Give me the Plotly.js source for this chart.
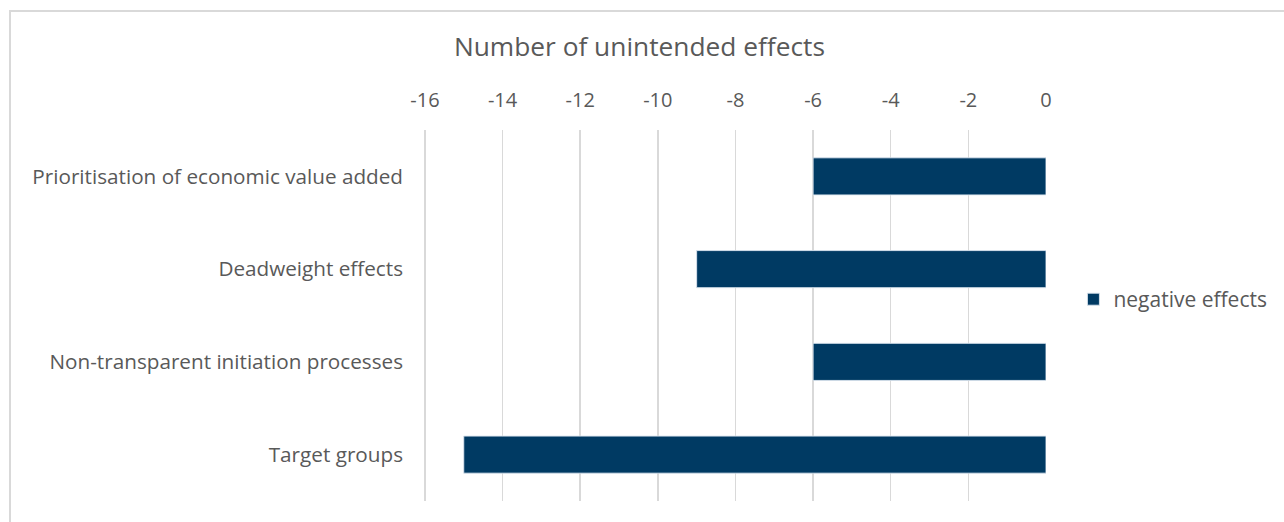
<!DOCTYPE html>
<html>
<head>
<meta charset="utf-8">
<script src="https://cdn.plot.ly/plotly-3.0.1.min.js"></script>
<style>
html, body { margin: 0; padding: 0; background: #fff; }
#wrap { position: relative; width: 1284px; height: 522px; overflow: hidden; }
#frame { position: absolute; left: 9px; top: 10px; width: 1300px; height: 600px; border-left: 2px solid #d9d9d9; border-top: 2px solid #d9d9d9; box-sizing: border-box; pointer-events: none; }
#chart { position: absolute; left: 0; top: 0; width: 1284px; height: 522px; }
</style>
</head>
<body>
<div id="wrap">
<div id="chart"></div>
<div id="frame"></div>
</div>
<script>
const categories = [
  "Prioritisation of economic value added",
  "Deadweight effects",
  "Non-transparent initiation processes",
  "Target groups"
];
const negativeEffects = [-6, -9, -6, -15];
const tickValues = [-16, -14, -12, -10, -8, -6, -4, -2, 0];
const seriesName = "negative effects";
const chartTitle = "Number of unintended effects";

const FONT = "'Open Sans', 'Noto Sans', sans-serif";
const GREY = "#595959";

const trace = {
  type: "bar",
  orientation: "h",
  y: categories,
  x: negativeEffects,
  name: seriesName,
  marker: { color: "#003a63", line: { color: "rgba(220,230,240,0.9)", width: 1 } },
  showlegend: true,
  hoverinfo: "x+y"
};

const layout = {
  width: 1284,
  height: 522,
  paper_bgcolor: "rgba(0,0,0,0)",
  plot_bgcolor: "rgba(0,0,0,0)",
  margin: { l: 423, r: 238, t: 130, b: 21, pad: 0 },
  font: { family: FONT, color: GREY, size: 18 },
  title: {
    text: chartTitle,
    x: 0.498, xref: "container", xanchor: "center",
    y: 1 - 47 / 522, yref: "container", yanchor: "middle",
    font: { family: FONT, size: 26.3, color: GREY }
  },
  bargap: 0.6,
  xaxis: {
    side: "top",
    range: [-16.05, 0],
    tickvals: tickValues,
    ticktext: tickValues.map(String),
    showgrid: true,
    gridcolor: "#d9d9d9",
    gridwidth: 1.5,
    zeroline: false,
    showline: false,
    ticks: "",
    ticklabelstandoff: 18,
    tickfont: { family: FONT, size: 20, color: GREY },
    fixedrange: true
  },
  yaxis: {
    type: "category",
    autorange: "reversed",
    showgrid: false,
    zeroline: false,
    showline: false,
    ticks: "",
    ticklabelstandoff: 19,
    tickfont: { family: FONT, size: 20.7, color: GREY },
    fixedrange: true
  },
  showlegend: true,
  legend: {
    x: 1.044, xanchor: "left",
    y: 0.543, yanchor: "middle",
    font: { family: FONT, size: 21, color: GREY },
    bgcolor: "rgba(0,0,0,0)",
    itemwidth: 30
  }
};

Plotly.newPlot("chart", [trace], layout, { displayModeBar: false, staticPlot: true });
</script>
</body>
</html>
